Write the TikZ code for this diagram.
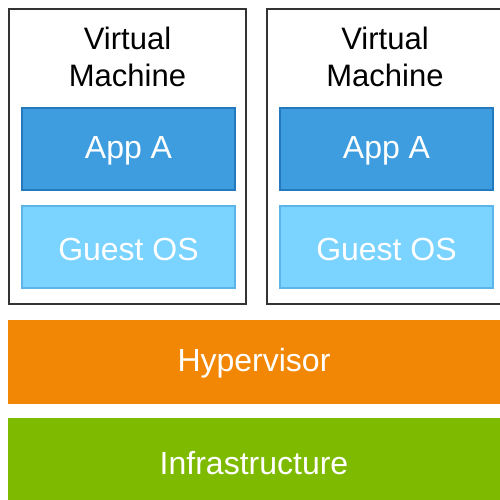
\documentclass[tikz,border=0pt]{standalone}
\usepackage{fontspec}
\setmainfont{Liberation Sans}
\definecolor{appfill}{HTML}{3E9DDF}
\definecolor{appline}{HTML}{2478BE}
\definecolor{osfill}{HTML}{7BD3FF}
\definecolor{osline}{HTML}{5BB5E8}
\definecolor{hyp}{HTML}{F28705}
\definecolor{infra}{HTML}{7DBA00}
\begin{document}
\begin{tikzpicture}[x=1pt,y=-1pt,
  vmbox/.style={draw=black!80,line width=1.6pt,fill=white},
  appbox/.style={draw=appline,line width=1.2pt,fill=appfill},
  osbox/.style={draw=osline,line width=1.2pt,fill=osfill},
  lbl/.style={font=\fontsize{32}{38}\selectfont,text=white},
  vmlbl/.style={font=\fontsize{31}{37}\selectfont,text=black,align=center}]
\useasboundingbox[fill=white] (0,0) rectangle (500,500);
% VM frames
\draw[vmbox] (9,9) rectangle (246,304);
\draw[vmbox] (267,9) rectangle (510,304);
\node[vmlbl] (vm1) at (127.5,57) {Virtual\\Machine};
\node[vmlbl] (vm2) at (385,57) {Virtual\\Machine};
% App A
\draw[appbox] (22,108) rectangle (235,190);
\node[lbl] (app1) at (128.5,151) {App A};
\draw[appbox] (280,108) rectangle (493,190);
\node[lbl] (app2) at (386.5,151) {App A};
% Guest OS
\draw[osbox] (22,206) rectangle (235,288);
\node[lbl] (os1) at (128.5,249) {Guest OS};
\draw[osbox] (280,206) rectangle (493,288);
\node[lbl] (os2) at (386.5,249) {Guest OS};
% Hypervisor
\fill[hyp] (8,320) rectangle (510,404);
\node[lbl] (hyp) at (254,363) {Hypervisor};
% Infrastructure
\fill[infra] (8,418) rectangle (510,510);
\node[lbl] (inf) at (254,463) {Infrastructure};
\end{tikzpicture}
\end{document}
